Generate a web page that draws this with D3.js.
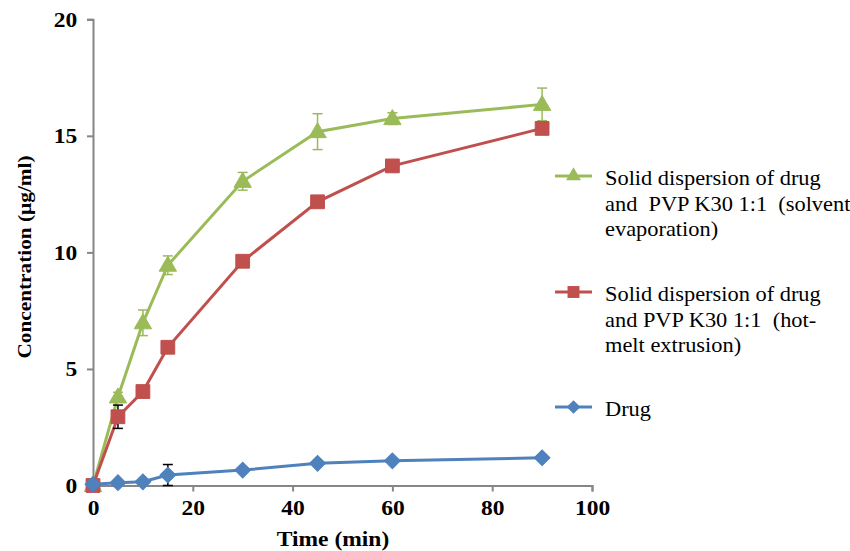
<!DOCTYPE html>
<html><head><meta charset="utf-8">
<script src="https://cdn.jsdelivr.net/npm/d3@7"></script>
<style>body{margin:0;background:#fff} text{font-family:'Liberation Serif','Times New Roman',Times,'DejaVu Serif',serif;}</style>
</head><body>
<svg id="c" width="850" height="551"></svg>
<script>
const times = [0, 5, 10, 15, 30, 45, 60, 90];
const solventVals = [0, 3.8, 6.98, 9.45, 13.05, 15.18, 15.74, 16.35];
const solventErr  = [0, 0.2, 0.55, 0.4, 0.38, 0.77, 0.25, 0.7];
const hotmeltVals = [0, 2.95, 4.03, 5.93, 9.62, 12.17, 13.71, 15.32];
const hotmeltErr  = [0, 0.5, 0, 0, 0, 0, 0, 0];
const drugVals    = [0.05, 0.12, 0.16, 0.45, 0.66, 0.95, 1.06, 1.19];
const drugErr     = [0, 0, 0, 0.45, 0, 0, 0, 0];
const xTicks = [0, 20, 40, 60, 80, 100];
const yTicks = [0, 5, 10, 15, 20];

const FONT = "'Liberation Serif','Times New Roman',Times,'DejaVu Serif',serif";
const SX = 1.12;
const series = [
  {name:["Solid dispersion of drug","and  PVP K30 1:1  (solvent","evaporation)"], vals:solventVals, err:solventErr, color:"#9BBB59", errColor:"#9BBB59", sym:d3.symbolTriangle, size:130, rot:0, legY:176},
  {name:["Solid dispersion of drug","and PVP K30 1:1  (hot-","melt extrusion)"], vals:hotmeltVals, err:hotmeltErr, color:"#C0504D", errColor:"#000", sym:d3.symbolSquare, size:190, rot:0, legY:292},
  {name:["Drug"], vals:drugVals, err:drugErr, color:"#4F81BD", errColor:"#000", sym:d3.symbolSquare, size:125, rot:45, legY:407}
];

const svg = d3.select("#c");
const x = d3.scaleLinear().domain([0,100]).range([93,592]);
const y = d3.scaleLinear().domain([0,20]).range([485.5,19.3]);

const gx = svg.append("g").attr("transform","translate(0,485.5)")
  .call(d3.axisBottom(x).tickValues(xTicks).tickSize(6).tickPadding(9));
const gy = svg.append("g").attr("transform","translate(93,0)")
  .call(d3.axisLeft(y).tickValues(yTicks).tickSize(6).tickPadding(8));
[gx,gy].forEach(g=>{
  g.selectAll("path,line").attr("stroke","#868686").attr("stroke-width",2);
  g.selectAll("text").attr("font-family",FONT).attr("font-weight","bold").attr("font-size",21).attr("fill","#000")
    .attr("transform",`scale(${SX},1)`);
});

svg.append("text").attr("transform",`translate(333,546) scale(${SX},1)`).attr("text-anchor","middle")
  .attr("font-family",FONT).attr("font-weight","bold").attr("font-size",21).text("Time (min)");
svg.append("text").attr("transform",`translate(31,257) rotate(-90) scale(${SX},1)`).attr("text-anchor","middle")
  .attr("font-family",FONT).attr("font-weight","bold").attr("font-size",19).text("Concentration (µg/ml)");

const line = d3.line().x((d,i)=>x(times[i])).y(d=>y(d));
series.forEach(s=>{
  svg.append("path").datum(s.vals).attr("d",line).attr("fill","none").attr("stroke",s.color).attr("stroke-width",3);
});
series.forEach(s=>{
  const g = svg.append("g");
  s.vals.forEach((v,i)=>{
    const e = s.err[i];
    if(e>0){
      g.append("line").attr("x1",x(times[i])).attr("x2",x(times[i])).attr("y1",y(v-e)).attr("y2",y(v+e)).attr("stroke",s.errColor).attr("stroke-width",1.5);
      [v-e,v+e].forEach(w=>g.append("line").attr("x1",x(times[i])-5).attr("x2",x(times[i])+5).attr("y1",y(w)).attr("y2",y(w)).attr("stroke",s.errColor).attr("stroke-width",1.5));
    }
  });
});
series.forEach(s=>{
  const sym = d3.symbol().type(s.sym).size(s.size);
  svg.append("g").selectAll("path").data(s.vals).join("path")
    .attr("d",sym).attr("transform",(d,i)=>`translate(${x(times[i])},${y(d) + (s.sym===d3.symbolTriangle?1:0)}) rotate(${s.rot})`)
    .attr("fill",s.color).attr("stroke",s.color).attr("stroke-width",1);
});
// legend
series.forEach(s=>{
  const g = svg.append("g");
  g.append("line").attr("x1",555).attr("x2",592).attr("y1",s.legY).attr("y2",s.legY).attr("stroke",s.color).attr("stroke-width",3);
  g.append("path").attr("d",d3.symbol().type(s.sym).size(s.size*0.75)).attr("transform",`translate(573.5,${s.legY}) rotate(${s.rot})`).attr("fill",s.color);
  s.name.forEach((t,k)=>{
    g.append("text").attr("transform",`translate(605,${s.legY+9+k*25.5}) scale(${SX},1)`)
      .attr("font-family",FONT).attr("font-size",20).attr("fill","#000").style("white-space","pre").text(t);
  });
});
</script>
</body></html>
